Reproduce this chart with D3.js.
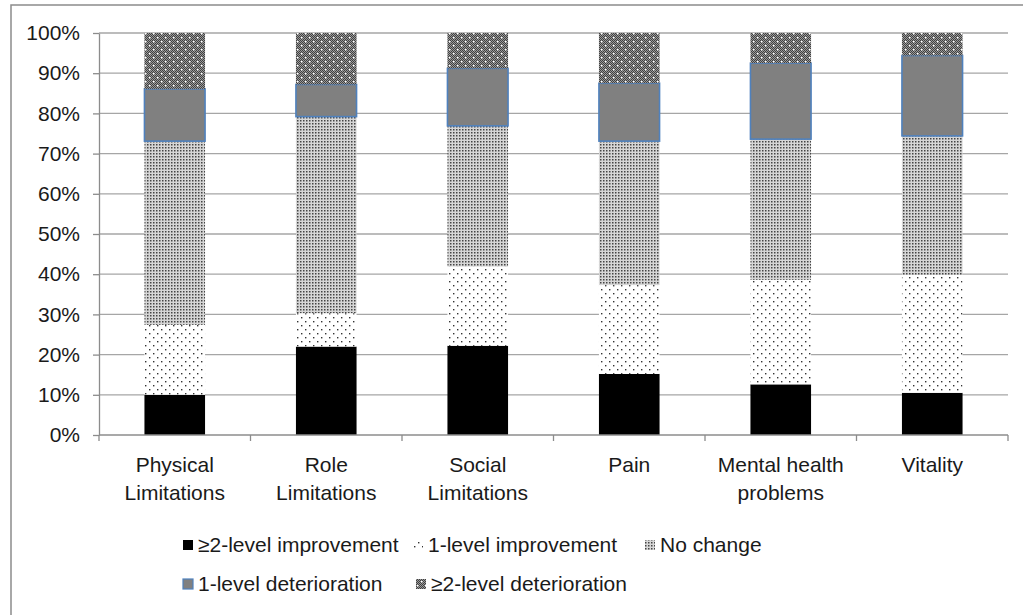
<!DOCTYPE html>
<html>
<head>
<meta charset="utf-8">
<script src="https://cdn.jsdelivr.net/npm/d3@7"></script>
<style>
  body { margin: 0; background: #fff; }
  svg { display: block; font-family: "Liberation Sans", Arial, sans-serif; }
</style>
</head>
<body>
<div id="chart"></div>
<script>
// categories (label lines)
const categories = ["Physical Limitations", "Role Limitations", "Social Limitations", "Pain", "Mental health problems", "Vitality"];
const categoryLines = [["Physical", "Limitations"], ["Role", "Limitations"], ["Social", "Limitations"], ["Pain"], ["Mental health", "problems"], ["Vitality"]];

// series values, percent
const improve2 = [10.0, 22.0, 22.2, 15.2, 12.6, 10.5];
const improve1 = [17.4, 8.3, 19.7, 22.1, 26.0, 29.3];
const noChange = [45.7, 48.9, 35.0, 35.8, 35.0, 34.6];
const deter1 = [13.0, 8.0, 14.3, 14.4, 18.9, 20.0];
const deter2 = [13.9, 12.8, 8.8, 12.5, 7.5, 5.6];

const seriesNames = ["≥2-level improvement", "1-level improvement", "No change", "1-level deterioration", "≥2-level deterioration"];
const yTicks = [0, 10, 20, 30, 40, 50, 60, 70, 80, 90, 100];

const width = 1023;
const height = 615;
const marginLeft = 99;
const marginRight = 15;
const marginTop = 33;
const plotBottom = 435;
const fontSize = 21;

const rows = categories.map((c, i) => ({
  category: c,
  s0: improve2[i], s1: improve1[i], s2: noChange[i], s3: deter1[i], s4: deter2[i]
}));
const keys = ["s0", "s1", "s2", "s3", "s4"];
const stacked = d3.stack().keys(keys)(rows);

const x = d3.scaleBand(categories, [marginLeft, width - marginRight]).paddingInner(0.6).paddingOuter(0.3);
const y = d3.scaleLinear([0, 100], [plotBottom, marginTop]);

const svg = d3.select("#chart").append("svg")
    .attr("width", width)
    .attr("height", height)
    .attr("viewBox", [0, 0, width, height]);

// patterns
const defs = svg.append("defs");

const pImp = defs.append("pattern").attr("id", "imp1").attr("patternUnits", "userSpaceOnUse")
    .attr("width", 8).attr("height", 8);
pImp.append("rect").attr("width", 8).attr("height", 8).attr("fill", "#fff");
pImp.append("rect").attr("x", 1).attr("y", 1).attr("width", 1.4).attr("height", 1.4).attr("fill", "#333");
pImp.append("rect").attr("x", 5).attr("y", 5).attr("width", 1.4).attr("height", 1.4).attr("fill", "#333");

const pNc = defs.append("pattern").attr("id", "nochange").attr("patternUnits", "userSpaceOnUse")
    .attr("width", 3).attr("height", 3);
pNc.append("rect").attr("width", 3).attr("height", 3).attr("fill", "#d6d6d6");
pNc.append("rect").attr("width", 1.5).attr("height", 1.5).attr("fill", "#444");

const pChk = defs.append("pattern").attr("id", "checker").attr("patternUnits", "userSpaceOnUse")
    .attr("width", 2).attr("height", 2);
pChk.append("rect").attr("width", 2).attr("height", 2).attr("fill", "#9a9a9a");
pChk.append("rect").attr("width", 1).attr("height", 1).attr("fill", "#404040");
pChk.append("rect").attr("x", 1).attr("y", 1).attr("width", 1).attr("height", 1).attr("fill", "#404040");

const pDet = defs.append("pattern").attr("id", "deter2").attr("patternUnits", "userSpaceOnUse")
    .attr("width", 8).attr("height", 8);
pDet.append("rect").attr("width", 8).attr("height", 8).attr("fill", "url(#checker)");
pDet.append("rect").attr("x", 1).attr("y", 1).attr("width", 1.5).attr("height", 1.5).attr("fill", "#fff");
pDet.append("rect").attr("x", 5).attr("y", 5).attr("width", 1.5).attr("height", 1.5).attr("fill", "#fff");

const fills = ["#000", "url(#imp1)", "url(#nochange)", "#808080", "url(#deter2)"];
const strokes = ["none", "none", "none", "#4f81bd", "none"];

// outer frame
svg.append("rect")
    .attr("x", 11).attr("y", 5)
    .attr("width", width + 20).attr("height", height + 20)
    .attr("fill", "none").attr("stroke", "#8c8c8c").attr("stroke-width", 1.5);

// grid lines
svg.append("g")
  .selectAll("line")
  .data(yTicks.filter(d => d > 0))
  .join("line")
    .attr("x1", marginLeft).attr("x2", width - marginRight)
    .attr("y1", d => y(d)).attr("y2", d => y(d))
    .attr("stroke", "#a6a6a6").attr("stroke-width", 1.3);

// bars
svg.append("g")
  .selectAll("g")
  .data(stacked)
  .join("g")
    .attr("fill", (d, i) => fills[i])
    .attr("stroke", (d, i) => strokes[i])
    .attr("stroke-width", 1.6)
  .selectAll("rect")
  .data(d => d)
  .join("rect")
    .attr("x", d => x(d.data.category))
    .attr("y", d => y(d[1]))
    .attr("width", x.bandwidth())
    .attr("height", d => y(d[0]) - y(d[1]));

// y axis
svg.append("g")
    .attr("transform", `translate(${marginLeft},0)`)
    .call(d3.axisLeft(y).tickValues(yTicks).tickFormat(d => d + "%").tickSize(6).tickSizeOuter(0))
    .call(g => g.select(".domain").attr("stroke", "#8c8c8c").attr("stroke-width", 1.3))
    .call(g => g.selectAll(".tick line").attr("stroke", "#8c8c8c").attr("stroke-width", 1.3))
    .call(g => g.selectAll(".tick text")
        .attr("x", -19)
        .attr("font-size", fontSize)
        .attr("fill", "#1a1a1a")
        .attr("font-family", "Liberation Sans, Arial, sans-serif"));

// x axis
const xAxis = svg.append("g").attr("transform", `translate(0,${plotBottom})`);
xAxis.append("line")
    .attr("x1", marginLeft).attr("x2", width - marginRight)
    .attr("stroke", "#8c8c8c").attr("stroke-width", 1.3);
xAxis.selectAll(".bound")
  .data(d3.range(categories.length + 1))
  .join("line")
    .attr("class", "bound")
    .attr("x1", i => x.range()[0] + i * x.step())
    .attr("x2", i => x.range()[0] + i * x.step())
    .attr("y1", 0).attr("y2", 6)
    .attr("stroke", "#8c8c8c").attr("stroke-width", 1.3);

xAxis.selectAll(".cat")
  .data(categories)
  .join("text")
    .attr("class", "cat")
    .attr("text-anchor", "middle")
    .attr("font-size", fontSize)
    .attr("fill", "#1a1a1a")
    .attr("transform", d => `translate(${x(d) + x.bandwidth() / 2},0)`)
  .selectAll("tspan")
  .data((d, i) => categoryLines[i])
  .join("tspan")
    .attr("x", 0)
    .attr("y", (d, i) => 37 + i * 28)
    .text(d => d);

// legend
const legendItems = [
  { i: 0, x: 183, y: 545 },
  { i: 1, x: 413, y: 545 },
  { i: 2, x: 645, y: 545 },
  { i: 3, x: 183, y: 584 },
  { i: 4, x: 416, y: 584 }
];
const legend = svg.append("g")
  .selectAll("g")
  .data(legendItems)
  .join("g")
    .attr("transform", d => `translate(${d.x},${d.y})`);
legend.append("rect")
    .attr("x", 0).attr("y", -5)
    .attr("width", 10).attr("height", 10)
    .attr("fill", d => fills[d.i])
    .attr("stroke", d => strokes[d.i])
    .attr("stroke-width", 1.2);
legend.append("text")
    .attr("x", 15)
    .attr("dy", "0.35em")
    .attr("font-size", fontSize)
    .attr("fill", "#1a1a1a")
    .text(d => seriesNames[d.i]);
</script>
</body>
</html>
